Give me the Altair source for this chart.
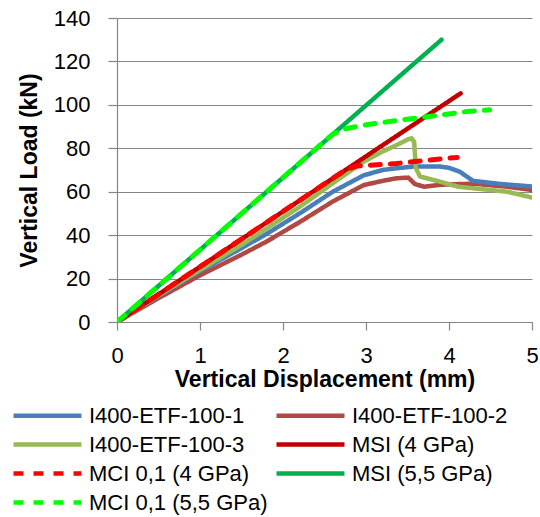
import altair as alt
import pandas as pd

names = ["I400-ETF-100-1", "I400-ETF-100-2", "I400-ETF-100-3", "MSI (4 GPa)",
         "MCI 0,1 (4 GPa)", "MSI (5,5 GPa)", "MCI 0,1 (5,5 GPa)"]
colors = ["#4A7EBB", "#B04844", "#98B954", "#C00000", "#FF0000", "#00B050", "#00FF00"]
dashes = [[1, 0], [1, 0], [1, 0], [1, 0], [10, 10], [1, 0], [10, 10]]
widths = [4.5, 4.5, 4.5, 4.5, 5, 4.5, 5]

# I400-ETF-100-1
x1 = [0, 0.5, 1.0, 1.5, 1.8, 2.2, 2.6, 2.97, 3.2, 3.37, 3.57, 3.89, 4.0, 4.13, 4.29, 4.61, 5.0]
y1 = [0, 12, 23.5, 34, 40.5, 50, 60, 67.5, 70, 70.8, 71.6, 71.6, 71, 69.2, 65, 63.6, 62.4]
# I400-ETF-100-2
x2 = [0, 0.5, 1.0, 1.5, 1.8, 2.2, 2.6, 2.97, 3.2, 3.37, 3.51, 3.59, 3.7, 3.9, 4.11, 4.3, 4.7, 5.0]
y2 = [0, 11, 21.5, 31, 37, 46, 55.5, 63, 65, 66.2, 66.5, 63.5, 62.3, 63.2, 63.5, 63.7, 62.3, 60.8]
# I400-ETF-100-3
x3 = [0, 0.5, 1.0, 1.5, 1.8, 2.2, 2.6, 2.97, 3.2, 3.37, 3.5, 3.55, 3.58, 3.6, 3.65, 3.89, 4.11, 4.29, 4.7, 5.0]
y3 = [0, 12.3, 24, 35.5, 43, 53, 63.9, 73.8, 78.5, 81.5, 84, 84.6, 83, 71, 67, 64.6, 62.3, 61.6, 60, 57.3]
# MSI (4 GPa)
x4 = [0, 4.14]
y4 = [0, 105.3]
# MCI 0,1 (4 GPa)
x5 = [0, 2.75, 2.89, 3.37, 3.77, 4.1]
y5 = [0, 70, 71.8, 73, 74.6, 75.8]
# MSI (5,5 GPa)
x6 = [0, 3.91]
y6 = [0, 130]
# MCI 0,1 (5,5 GPa)
x7 = [0, 2.6, 2.75, 3.01, 3.41, 3.81, 4.21, 4.49]
y7 = [0, 86.5, 89, 90.9, 93, 94.9, 96.9, 97.7]

xs = [x1, x2, x3, x4, x5, x6, x7]
ys = [y1, y2, y3, y4, y5, y6, y7]

rows = []
for n, xx, yy in zip(names, xs, ys):
    for i, (a, b) in enumerate(zip(xx, yy)):
        rows.append({"series": n, "x": a, "y": b, "i": i})
df = pd.DataFrame(rows)

FONT = "Liberation Sans"

legend = alt.Legend(
    title=None, orient="none", legendX=-82, legendY=385, columns=2, direction="horizontal",
    symbolType="M-3.4,0H3.4", symbolSize=400, symbolStrokeWidth=4.5,
    labelFont=FONT, labelFontSize=22, labelColor="black", labelOffset=29,
    columnPadding=-1, rowPadding=5, padding=0, labelLimit=400,
)

draw_order = [1, 0, 2, 3, 4, 5, 6]
layers = []
for k in draw_order:
    n = names[k]
    layers.append(
        alt.Chart(df).transform_filter(alt.datum.series == n)
        .mark_line(strokeWidth=widths[k], strokeCap="round", strokeJoin="round", clip=True)
        .encode(
            x=alt.X("x:Q", scale=alt.Scale(domain=[0, 5], nice=False),
                    axis=alt.Axis(title="Vertical Displacement (mm)", values=[0, 1, 2, 3, 4, 5],
                                  grid=False, tickSize=8, labelPadding=15, titlePadding=2,
                                  labelFlush=False)),
            y=alt.Y("y:Q", scale=alt.Scale(domain=[0, 140], nice=False),
                    axis=alt.Axis(title="Vertical Load (kN)", values=list(range(0, 141, 20)),
                                  grid=True, tickSize=9, labelPadding=18, titlePadding=12,
                                  labelFlush=False)),
            color=alt.Color("series:N", scale=alt.Scale(domain=names, range=colors), legend=legend),
            strokeDash=alt.StrokeDash("series:N", scale=alt.Scale(domain=names, range=dashes), legend=legend),
            order=alt.Order("i:Q"),
        )
    )

chart = alt.layer(*layers).properties(
    width=415, height=304,
    background="white",
    autosize=alt.AutoSizeParams(type="none"),
    padding={"left": 117, "top": 18, "right": 8, "bottom": 195},
).configure_view(stroke=None).configure_axis(
    domainColor="#868686", tickColor="#868686", gridColor="#868686",
    domainWidth=1.2, tickWidth=1.2, gridWidth=1.2,
    labelFont=FONT, labelFontSize=22, labelColor="black",
    titleFont=FONT, titleFontSize=23, titleFontWeight="bold", titleColor="black",
)

chart.save("out.html", embed_options={"renderer": "svg", "actions": False})
